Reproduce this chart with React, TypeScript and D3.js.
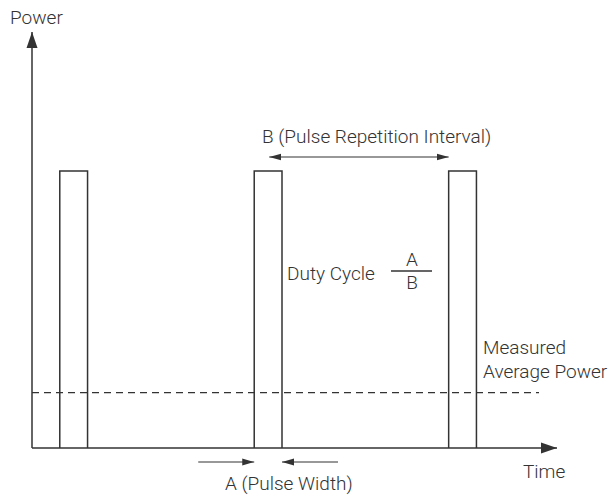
import React from "react";
import * as d3 from "d3";

// time units: one unit = pulse width A
const pulseStarts = [1, 8, 15];
const pulseWidth = 1;
const pulsePower = 1;
const avgPower = 0.2;
const timeMax = 18.9;
const powerMax = 1.5;

const width = 613;
const height = 495;
const ink = "#333";
const font = "Roboto, 'Open Sans', sans-serif";

const App = () => {
  const x = d3.scaleLinear().domain([0, timeMax]).range([32, 557]);
  const y = d3.scaleLinear().domain([0, powerMax]).range([448, 32]);
  const yp = d3.scaleLinear().domain([0, pulsePower]).range([448, 171]);

  const pulse = d3
    .line<[number, number]>()
    .x((d) => x(d[0]))
    .y((d) => yp(d[1]));

  const pulsePts = (s: number): [number, number][] => [
    [s, 0],
    [s, pulsePower],
    [s + pulseWidth, pulsePower],
    [s + pulseWidth, 0],
  ];

  const p2 = pulseStarts[1];
  const p3 = pulseStarts[2];
  const fracX = x(p2 + pulseWidth) + 109;

  return (
    <svg width={width} height={height} style={{ position: "absolute", left: 0, top: 0 }}>
      <defs>
        <marker id="ah" viewBox="0 0 12 8" refX="12" refY="4" markerWidth="12" markerHeight="8" markerUnits="userSpaceOnUse" orient="auto-start-reverse">
          <path d="M0,0.6 L12,4 L0,7.4 Z" fill={ink} />
        </marker>
        <marker id="big" viewBox="0 0 16 12" refX="16" refY="6" markerWidth="16" markerHeight="12" markerUnits="userSpaceOnUse" orient="auto">
          <path d="M0,0.5 L16,6 L0,11.5 Z" fill={ink} />
        </marker>
      </defs>

      {/* axes */}
      <line x1={x(0)} y1={y(0)} x2={x(0)} y2={y(powerMax)} stroke={ink} strokeWidth={1.5} markerEnd="url(#big)" />
      <line x1={x(0)} y1={y(0)} x2={x(timeMax)} y2={y(0)} stroke={ink} strokeWidth={1.5} markerEnd="url(#big)" />

      {/* average power */}
      <line x1={x(0)} y1={yp(avgPower)} x2={x(timeMax) - 18} y2={yp(avgPower)} stroke={ink} strokeWidth={1.2} strokeDasharray="7,5" />

      {/* pulses */}
      {pulseStarts.map((s) => (
        <path key={s} d={pulse(pulsePts(s)) || ""} fill="none" stroke={ink} strokeWidth={1.5} />
      ))}

      <g fill={ink} fontFamily={font} fontWeight={300} fontSize={19}>
        <text x={10} y={24}>Power</text>
        <text x={523} y={478}>Time</text>

        {/* B */}
        <text x={262} y={143}>B (Pulse Repetition Interval)</text>
        <line x1={x(p2) + 15} y1={157} x2={x(p3)} y2={157} stroke={ink} strokeWidth={1.2} markerStart="url(#ah)" markerEnd="url(#ah)" />

        {/* duty cycle */}
        <text x={x(p2 + pulseWidth) + 5} y={280}>Duty Cycle</text>
        <line x1={fracX} y1={271} x2={fracX + 41} y2={271} stroke={ink} strokeWidth={1.5} />
        <text x={fracX + 21} y={266} textAnchor="middle">A</text>
        <text x={fracX + 21} y={289} textAnchor="middle">B</text>

        {/* measured average */}
        <text x={483} y={354}>Measured</text>
        <text x={483} y={378}>Average Power</text>

        {/* A */}
        <line x1={x(p2) - 56} y1={462} x2={x(p2)} y2={462} stroke={ink} strokeWidth={1.2} markerEnd="url(#ah)" />
        <line x1={x(p2 + pulseWidth) + 56} y1={462} x2={x(p2 + pulseWidth)} y2={462} stroke={ink} strokeWidth={1.2} markerEnd="url(#ah)" />
        <text x={225} y={490}>A (Pulse Width)</text>
      </g>
    </svg>
  );
};

export default App;
